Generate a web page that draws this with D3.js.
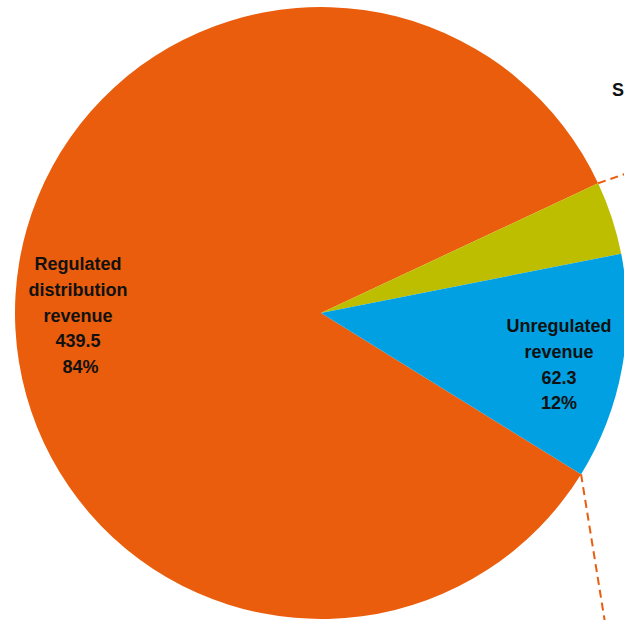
<!DOCTYPE html>
<html>
<head>
<meta charset="utf-8">
<script src="https://cdn.jsdelivr.net/npm/d3@7"></script>
<style>
  html, body { margin: 0; padding: 0; background: #fff; }
  svg { display: block; }
</style>
</head>
<body>
<svg width="624" height="620"></svg>
<script>
// revenue split, values as printed on the chart
var categories = ["Regulated distribution revenue", "Other revenue", "Unregulated revenue"];
var values = [439.5, 20.2, 62.3];
var percents = ["84%", "4%", "12%"];
var colors = ["#EA5D0C", "#BDBE00", "#00A0E3"];
// label lines for the two labelled slices (small slice label sits off to the right)
var labelLines = [
  ["Regulated", "distribution", "revenue", "439.5", " 84%"],
  null,
  ["Unregulated", "revenue", "62.3", "12%"]
];

var width = 624, height = 620;
var cx = 321, cy = 313, radius = 306;
var startDeg = 121.8;

var svg = d3.select("svg")
  .append("g")
  .attr("transform", "translate(" + cx + "," + cy + ")");

var pie = d3.pie()
  .sort(null)
  .startAngle(startDeg * Math.PI / 180)
  .endAngle(startDeg * Math.PI / 180 + 2 * Math.PI);

var arcs = pie(values);

var arc = d3.arc().innerRadius(0).outerRadius(radius);

svg.selectAll("path.slice")
  .data(arcs)
  .enter().append("path")
  .attr("class", "slice")
  .attr("d", arc)
  .attr("fill", function (d, i) { return colors[i]; });

// leader lines towards the (cropped) breakout on the right
function edge(a) {
  return [radius * Math.sin(a), -radius * Math.cos(a)];
}
var leaders = [
  { a: arcs[1].startAngle, len: 32 },
  { a: arcs[2].endAngle, len: 150 }
];
svg.selectAll("line.leader")
  .data(leaders)
  .enter().append("line")
  .attr("class", "leader")
  .attr("x1", function (d) { return edge(d.a)[0]; })
  .attr("y1", function (d) { return edge(d.a)[1]; })
  .attr("x2", function (d, i) {
    var p = edge(d.a);
    return i === 0 ? p[0] + d.len * Math.cos(-0.33) : p[0] + d.len * Math.sin(0.16);
  })
  .attr("y2", function (d, i) {
    var p = edge(d.a);
    return i === 0 ? p[1] + d.len * Math.sin(-0.33) : p[1] + d.len * Math.cos(0.16);
  })
  .attr("stroke", "#EA5D0C")
  .attr("stroke-width", 2)
  .attr("stroke-dasharray", "8,5");

// slice labels
var labelPos = [[-243, -43], null, [238, 19]];
var lineH = 25.8;
arcs.forEach(function (d, i) {
  if (!labelLines[i]) return;
  var t = svg.append("text")
    .attr("text-anchor", "middle")
    .attr("font-family", "'Liberation Sans', Arial, sans-serif")
    .attr("font-weight", "bold")
    .attr("font-size", "18px")
    .attr("fill", "#111")
    .attr("xml:space", "preserve");
  labelLines[i].forEach(function (s, k) {
    t.append("tspan")
      .attr("x", labelPos[i][0])
      .attr("y", labelPos[i][1] + k * lineH)
      .text(s);
  });
});

// label of the small slice, mostly outside the visible area
svg.append("text")
  .attr("x", 612 - cx)
  .attr("y", 96 - cy)
  .attr("font-family", "'Liberation Sans', Arial, sans-serif")
  .attr("font-weight", "bold")
  .attr("font-size", "18px")
  .attr("fill", "#111")
  .text("S");
</script>
</body>
</html>
